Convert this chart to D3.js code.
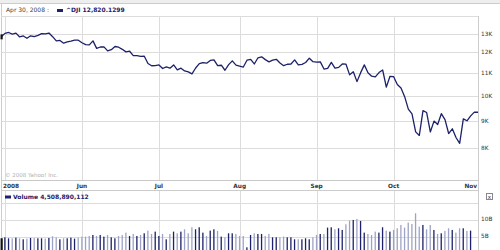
<!DOCTYPE html>
<html><head><meta charset="utf-8">
<script src="https://cdn.jsdelivr.net/npm/d3@7"></script>
<style>
body{margin:0;background:#fff}
svg{display:block}
text{font-family:"DejaVu Sans",Verdana,sans-serif}
</style>
</head><body>
<svg id="c" width="500" height="250"></svg>
<script>
// Trading days (categories)
const dates = [
"2008-04-30",
"2008-05-01","2008-05-02","2008-05-05","2008-05-06","2008-05-07","2008-05-08","2008-05-09","2008-05-12","2008-05-13","2008-05-14","2008-05-15","2008-05-16","2008-05-19","2008-05-20","2008-05-21","2008-05-22","2008-05-23","2008-05-27","2008-05-28","2008-05-29","2008-05-30",
"2008-06-02","2008-06-03","2008-06-04","2008-06-05","2008-06-06","2008-06-09","2008-06-10","2008-06-11","2008-06-12","2008-06-13","2008-06-16","2008-06-17","2008-06-18","2008-06-19","2008-06-20","2008-06-23","2008-06-24","2008-06-25","2008-06-26","2008-06-27","2008-06-30",
"2008-07-01","2008-07-02","2008-07-03","2008-07-07","2008-07-08","2008-07-09","2008-07-10","2008-07-11","2008-07-14","2008-07-15","2008-07-16","2008-07-17","2008-07-18","2008-07-21","2008-07-22","2008-07-23","2008-07-24","2008-07-25","2008-07-28","2008-07-29","2008-07-30","2008-07-31",
"2008-08-01","2008-08-04","2008-08-05","2008-08-06","2008-08-07","2008-08-08","2008-08-11","2008-08-12","2008-08-13","2008-08-14","2008-08-15","2008-08-18","2008-08-19","2008-08-20","2008-08-21","2008-08-22","2008-08-25","2008-08-26","2008-08-27","2008-08-28","2008-08-29",
"2008-09-02","2008-09-03","2008-09-04","2008-09-05","2008-09-08","2008-09-09","2008-09-10","2008-09-11","2008-09-12","2008-09-15","2008-09-16","2008-09-17","2008-09-18","2008-09-19","2008-09-22","2008-09-23","2008-09-24","2008-09-25","2008-09-26","2008-09-29","2008-09-30",
"2008-10-01","2008-10-02","2008-10-03","2008-10-06","2008-10-07","2008-10-08","2008-10-09","2008-10-10","2008-10-13","2008-10-14","2008-10-15","2008-10-16","2008-10-17","2008-10-20","2008-10-21","2008-10-22","2008-10-23","2008-10-24","2008-10-27","2008-10-28","2008-10-29","2008-10-30","2008-10-31",
"2008-11-03"
];

// ^DJI close
const closes = [
12820,
13010,13058,12969,13020,12814,12866,12745,12876,12832,12898,12992,12986,13028,12828,12601,12625,12480,12548,12594,12647,12638,
12503,12402,12391,12604,12210,12280,12289,12083,12141,12307,12269,12160,12029,12063,11842,11842,11807,11811,11453,11346,11350,
11382,11215,11288,11231,11384,11147,11229,11100,11055,10962,11239,11446,11496,11467,11603,11632,11349,11370,11131,11397,11583,11378,
11326,11284,11615,11656,11431,11734,11782,11642,11532,11615,11659,11479,11348,11417,11430,11628,11386,11413,11502,11715,11543,
11516,11532,11188,11220,11511,11231,11268,11433,11421,10917,11059,10609,11020,11388,11016,10854,10825,11023,11143,10365,10851,
10831,10482,10325,9955,9447,9258,8579,8451,9387,9310,8577,8979,8852,9265,9033,8519,8691,8378,8175,9065,8990,9180,9325,
9320
];

// Volume, billions (Apr 30 .. Oct 31)
const volumes = [
4.51,
4.8,4.5,4.5,4.7,4.5,4.2,4.4,4.6,4.6,4.5,4.5,4.4,4.6,5.1,4.8,4.2,4.5,4.5,4.7,4.4,4.7,
5.0,5.0,5.2,5.5,5.2,5.5,5.0,5.5,4.8,4.5,5.2,5.5,6.2,5.2,5.8,5.2,5.5,6.0,6.8,5.8,6.5,
5.2,5.8,4.2,5.8,6.5,6.0,6.5,7.2,6.0,7.8,7.2,7.8,6.2,5.2,6.8,7.2,6.7,5.0,4.8,6.0,6.0,
5.8,5.2,5.2,1.8,5.5,6.0,5.8,5.8,5.2,5.8,4.8,4.8,4.8,5.0,4.8,4.8,4.2,4.2,4.2,4.5,4.2,
4.8,5.5,5.8,5.8,
7.7,7.8,7.2,7.5,7.0,8.7,9.8,10.0,10.3,9.7,6.2,5.8,5.5,6.5,6.2,7.8,6.8,
6.5,7.0,7.5,8.5,7.7,9.2,8.8,12.0,8.0,8.5,7.2,8.5,7.0,5.8,6.0,6.7,7.5,7.0,6.2,7.5,7.5,6.7,6.8
];

const monthTickDates = ["2008-05-01","2008-06-02","2008-07-01","2008-08-01","2008-09-02","2008-10-01","2008-11-03"];
const monthTickLabels = ["2008","Jun","Jul","Aug","Sep","Oct","Nov"];
const priceGrid = [7000,8000,9000,10000,11000,12000,13000,14000];
const priceLabels = [8000,9000,10000,11000,12000,13000];
const volumeGrid = [5,10,15];
const volumeLabels = [5,10];

const navy = "#1c2169";
const lightBar = "#9ea3c6";
const grid = "#dcdcdc";

const svg = d3.select("#c");
const x = d3.scaleLinear().domain([0, dates.length - 1]).range([1.3, 478]);
const y = d3.scaleLog().domain([7000, 14000]).range([180, 16]);
const yv = d3.scaleLinear().domain([0, 20]).range([253.3, 186.6]);

// frame
svg.append("rect").attr("x",0).attr("y",0).attr("width",500).attr("height",3).attr("fill","#eeeeee");
svg.append("line").attr("x1",0).attr("x2",500).attr("y1",3.5).attr("y2",3.5).attr("stroke","#cccccc");
svg.append("line").attr("x1",1.5).attr("x2",1.5).attr("y1",3.5).attr("y2",250).attr("stroke","#cccccc");

// horizontal price gridlines
svg.append("g").selectAll("line").data(priceGrid).join("line")
  .attr("x1",1.5).attr("x2",478).attr("y1",d=>Math.round(y(d))+0.5).attr("y2",d=>Math.round(y(d))+0.5)
  .attr("stroke",d=>d===7000?"#c8c8c8":grid);

// vertical month gridlines
const tickIdx = monthTickDates.map(d => dates.indexOf(d));
svg.append("g").selectAll("line").data(tickIdx.slice(0,-1)).join("line")
  .attr("x1",d=>Math.round(x(d))+0.5).attr("x2",d=>Math.round(x(d))+0.5)
  .attr("y1",16).attr("y2",180).attr("stroke",grid);
svg.append("g").selectAll("line").data(tickIdx.slice(0,-1)).join("line")
  .attr("x1",d=>Math.round(x(d))+0.5).attr("x2",d=>Math.round(x(d))+0.5)
  .attr("y1",191).attr("y2",250).attr("stroke",grid);

// right border
svg.append("line").attr("x1",478.5).attr("x2",478.5).attr("y1",16).attr("y2",250).attr("stroke","#cccccc");

// price axis labels
svg.append("g").selectAll("text").data(priceLabels).join("text")
  .attr("x",481).attr("y",d=>y(d)+2).attr("font-size",5.8).attr("fill","#333")
  .text(d=>(d/1000)+"K");

// header
svg.append("text").attr("x",6).attr("y",12).attr("font-size",6).attr("fill","#444").text("Apr 30, 2008 :");
svg.append("rect").attr("x",57).attr("y",9).attr("width",6).attr("height",3).attr("fill",navy);
svg.append("text").attr("x",66).attr("y",12).attr("font-size",6).attr("font-weight","bold").attr("fill",navy).text("^DJI  12,820.1299");

// copyright
svg.append("text").attr("x",5).attr("y",177).attr("font-size",5.5).attr("fill","#b0b0b0").text("© 2008 Yahoo! Inc.");

// price line
svg.append("path").datum(closes)
  .attr("fill","none").attr("stroke",navy).attr("stroke-width",1.3).attr("stroke-linejoin","round")
  .attr("d", d3.line().x((d,i)=>x(i)).y(d=>y(d)));
svg.append("rect").attr("x",x(0)-0.8).attr("y",y(closes[0])-2.5).attr("width",2.2).attr("height",5).attr("fill","#111");

// x labels strip
svg.append("line").attr("x1",1.5).attr("x2",478).attr("y1",190.5).attr("y2",190.5).attr("stroke","#cccccc");
svg.append("g").selectAll("text").data(tickIdx).join("text")
  .attr("x",(d,i)=> i===0 ? 3 : (i===tickIdx.length-1 ? 477 : x(d)))
  .attr("text-anchor",(d,i)=> i===0 ? "start" : (i===tickIdx.length-1 ? "end" : "middle"))
  .attr("y",188).attr("font-size",5.8).attr("font-weight","bold").attr("fill","#333")
  .text((d,i)=>monthTickLabels[i]);

// volume gridlines
svg.append("g").selectAll("line").data(volumeGrid).join("line")
  .attr("x1",1.5).attr("x2",478).attr("y1",d=>Math.round(yv(d))+0.5).attr("y2",d=>Math.round(yv(d))+0.5)
  .attr("stroke",grid);
svg.append("g").selectAll("text").data(volumeLabels).join("text")
  .attr("x",481).attr("y",d=>yv(d)+1).attr("font-size",5.8).attr("fill","#333")
  .text(d=>d+"B");

// volume legend
svg.append("rect").attr("x",5).attr("y",195.5).attr("width",6).attr("height",3).attr("fill",navy);
svg.append("text").attr("x",13).attr("y",199).attr("font-size",6).attr("font-weight","bold").attr("fill",navy).text("Volume  4,508,890,112");

// close button
svg.append("rect").attr("x",486.5).attr("y",193.5).attr("width",6).attr("height",6).attr("fill","#fff").attr("stroke","#888");
svg.append("text").attr("x",489.5).attr("y",198.5).attr("text-anchor","middle").attr("font-size",5.5).attr("fill","#333").text("x");

// volume bars
svg.append("g").selectAll("rect").data(volumes).join("rect")
  .attr("x",(d,i)=>x(i)-0.75).attr("width",(d,i)=>i===0?2.2:1.3)
  .attr("y",d=>yv(d)).attr("height",d=>250-yv(d))
  .attr("fill",(d,i)=> i===0 ? "#111" : (closes[i] >= closes[i-1] ? navy : lightBar));
</script>
</body></html>
